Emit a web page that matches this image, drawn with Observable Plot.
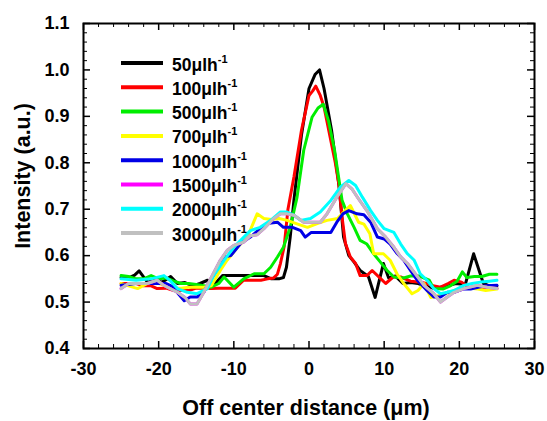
<!DOCTYPE html>
<html><head><meta charset="utf-8">
<script src="https://cdn.jsdelivr.net/npm/d3@7"></script>
<script src="https://cdn.jsdelivr.net/npm/@observablehq/plot@0.6"></script>
<style>body{margin:0;background:#fff} svg{display:block}</style>
</head><body><div id="chart"></div>
<script>
const seriesNames = ["50", "100", "500", "700", "1000", "1500", "2000", "3000"];
const seriesColors = ["#000000", "#ff0000", "#00ee00", "#ffff00", "#0000e6", "#ff00ff", "#00ffff", "#c0c0c0"];
const xTicks = [-30, -20, -10, 0, 10, 20, 30];
const yTicks = [0.4, 0.5, 0.6, 0.7, 0.8, 0.9, 1.0, 1.1];

const s50 = [[-25,0.553],[-24,0.552],[-23.2,0.558],[-22.6,0.567],[-21.5,0.543],[-20.5,0.547],[-19.5,0.543],[-18.4,0.555],[-17.5,0.54],[-16.5,0.542],[-15.5,0.535],[-14.5,0.54],[-13.5,0.547],[-12.5,0.54],[-11.5,0.557],[-10,0.557],[-8.5,0.557],[-7,0.557],[-6,0.557],[-5,0.55],[-4,0.55],[-3.4,0.553],[-3,0.575],[-2.5,0.64],[-2,0.72],[-1,0.86],[0,0.96],[0.8,0.99],[1.4,1.0],[2,0.96],[3,0.87],[4,0.75],[4.6,0.64],[5.3,0.6],[6,0.586],[6.8,0.568],[7.9,0.555],[8.8,0.51],[9.9,0.583],[10.6,0.552],[11.5,0.556],[12.5,0.54],[13.5,0.542],[14.5,0.54],[15.5,0.535],[16.5,0.53],[17.5,0.532],[18.5,0.535],[19.5,0.54],[20.8,0.538],[21.9,0.604],[23.2,0.54],[24,0.535],[25,0.535]];
const s100 = [[-25,0.54],[-24,0.54],[-23,0.54],[-22,0.535],[-21,0.535],[-20.2,0.529],[-19,0.53],[-18,0.525],[-17,0.525],[-16,0.525],[-15,0.53],[-14,0.53],[-13,0.529],[-12,0.53],[-11,0.53],[-9.8,0.53],[-8.7,0.547],[-7.5,0.547],[-6.4,0.547],[-5.5,0.55],[-4.7,0.552],[-4.2,0.56],[-3.8,0.583],[-3.3,0.62],[-2.8,0.7],[-2,0.77],[-1,0.87],[0,0.945],[0.5,0.955],[0.9,0.965],[1.5,0.945],[2,0.92],[3,0.84],[3.5,0.8],[3.95,0.756],[4.4,0.683],[4.85,0.626],[5.5,0.597],[6.2,0.583],[6.8,0.557],[7.7,0.557],[8.4,0.568],[9.5,0.551],[10.2,0.54],[11.2,0.554],[12.2,0.554],[13.5,0.545],[14.5,0.543],[15.7,0.54],[16.5,0.535],[17.5,0.532],[18.5,0.54],[19.3,0.547],[20.3,0.543],[21.2,0.532],[22,0.529],[23,0.53],[24,0.53],[25,0.53]];
const s500 = [[-25,0.557],[-24,0.555],[-23,0.55],[-22,0.55],[-21,0.557],[-20,0.55],[-19,0.552],[-18,0.545],[-17,0.54],[-16,0.54],[-15,0.538],[-14,0.535],[-13,0.532],[-12,0.54],[-11.3,0.554],[-10,0.532],[-8.7,0.55],[-7.3,0.561],[-6,0.561],[-5.1,0.575],[-4.2,0.597],[-3.4,0.618],[-2.5,0.661],[-1.6,0.725],[-0.7,0.827],[0.4,0.898],[1.2,0.918],[1.9,0.926],[2.6,0.89],[3.4,0.827],[4.4,0.719],[5.1,0.69],[6,0.661],[6.8,0.633],[7.7,0.625],[8.6,0.604],[9.5,0.586],[10.4,0.568],[11.3,0.554],[12.6,0.552],[13.5,0.556],[14.7,0.556],[16,0.547],[16.6,0.529],[17.8,0.528],[18.8,0.535],[19.7,0.545],[20.4,0.565],[21,0.553],[22,0.555],[23,0.555],[24,0.56],[25,0.56]];
const s700 = [[-25,0.54],[-24,0.535],[-22.8,0.529],[-21.5,0.54],[-20,0.54],[-19,0.535],[-18,0.53],[-17,0.53],[-16,0.532],[-15,0.532],[-14,0.532],[-13,0.535],[-11.8,0.568],[-10.9,0.59],[-9.5,0.618],[-8.2,0.64],[-6.9,0.69],[-6,0.68],[-5,0.678],[-4,0.68],[-2.9,0.676],[-1.5,0.668],[-0.2,0.661],[1.1,0.669],[2.4,0.676],[3.8,0.68],[4.7,0.695],[5.5,0.708],[6.6,0.672],[7.3,0.668],[8.1,0.647],[8.6,0.604],[9.9,0.604],[10.8,0.59],[11.7,0.561],[12.6,0.54],[13.7,0.518],[14.5,0.525],[15.3,0.54],[16.2,0.51],[17.5,0.515],[18.5,0.52],[19.3,0.525],[20.5,0.53],[21.5,0.53],[22.5,0.528],[23.5,0.525],[25,0.528]];
const s1000 = [[-25,0.536],[-23,0.54],[-21,0.54],[-20,0.54],[-19,0.54],[-18,0.532],[-17.5,0.52],[-16.6,0.503],[-15.8,0.511],[-14.9,0.511],[-14,0.521],[-13.1,0.547],[-12,0.575],[-11.3,0.597],[-10.4,0.6],[-9.1,0.626],[-7.8,0.64],[-6.5,0.658],[-5.6,0.669],[-4.2,0.672],[-3.4,0.661],[-2.2,0.661],[-1.1,0.654],[-0.5,0.64],[0.3,0.65],[1.5,0.65],[2.9,0.65],[3.7,0.672],[4.5,0.69],[5.3,0.697],[6.4,0.69],[7.3,0.688],[8.2,0.672],[9.1,0.64],[10,0.636],[10.8,0.625],[11.7,0.605],[12.6,0.59],[13.5,0.568],[14.4,0.547],[15.7,0.525],[16.6,0.511],[17.5,0.511],[18.4,0.521],[19.3,0.521],[20.5,0.528],[21.5,0.528],[22.5,0.532],[23.5,0.535],[25,0.536]];
const s2000 = [[-25,0.55],[-23,0.547],[-21,0.55],[-19.3,0.557],[-18.4,0.545],[-17.5,0.529],[-16.2,0.521],[-14.9,0.518],[-13.5,0.529],[-12.7,0.557],[-11.3,0.59],[-10,0.618],[-8.9,0.636],[-7.8,0.654],[-6.5,0.661],[-5.1,0.676],[-3.8,0.694],[-2.9,0.694],[-2,0.687],[-1.1,0.676],[0.2,0.68],[1.5,0.694],[2.9,0.719],[4.2,0.748],[5.3,0.762],[6.2,0.751],[7.1,0.726],[8.2,0.697],[9.1,0.676],[10,0.658],[11.3,0.65],[12.2,0.625],[13.1,0.604],[14,0.59],[14.8,0.561],[15.7,0.547],[16.6,0.529],[17.5,0.518],[18.4,0.521],[19.3,0.525],[20.6,0.536],[21.7,0.54],[22.8,0.543],[24,0.545],[25,0.547]];
const s3000 = [[-25,0.529],[-24,0.54],[-22.5,0.54],[-21.5,0.54],[-20.2,0.547],[-19.3,0.536],[-17.5,0.521],[-16.5,0.51],[-15.8,0.496],[-14.9,0.496],[-14,0.521],[-13.1,0.55],[-11.8,0.59],[-10.9,0.611],[-10,0.622],[-8.7,0.629],[-7.8,0.643],[-6.9,0.645],[-6,0.658],[-4.7,0.68],[-3.8,0.69],[-2.9,0.69],[-2,0.687],[-0.7,0.672],[0.4,0.672],[1.5,0.672],[2.4,0.69],[3.7,0.726],[4.9,0.755],[5.7,0.744],[6.6,0.722],[7.7,0.697],[9.1,0.658],[10.2,0.64],[11.3,0.618],[12.2,0.597],[13.1,0.583],[14,0.564],[15.3,0.536],[16.6,0.518],[17.5,0.5],[18.4,0.511],[19.3,0.521],[20.6,0.529],[22.4,0.536],[23.7,0.532],[25,0.529]];
// the 1500 curve is not visible in the picture: it lies beneath the 2000/3000 curves
const s1500 = s3000;

const allSeries = [s50, s100, s500, s700, s1000, s1500, s2000, s3000];
const rows = [];
allSeries.forEach((s, i) => s.forEach(([x, y]) => rows.push({name: seriesNames[i], x, y})));

const W = 547, H = 421, mL = 83, mR = 13, mT = 23, mB = 73;
const innerW = W - mL - mR, innerH = H - mT - mB;
const xMinor = d3.range(-30, 30.001, 2).filter(v => Math.abs(v % 10) > 0.01);
const yMinor = d3.range(0, 36).map(i => +(0.4 + i * 0.02).toFixed(2)).filter(v => Math.abs(Math.round(v * 10) - v * 10) > 0.01);
const MAJ = 7, MIN = 4;
const font = "'Liberation Sans', Arial, sans-serif";

const svg = Plot.plot({
  width: W, height: H, marginLeft: mL, marginRight: mR, marginTop: mT, marginBottom: mB,
  style: {fontFamily: font, background: "white", color: "black"},
  x: {domain: [-30, 30]},
  y: {domain: [0.4, 1.1]},
  color: {domain: seriesNames, range: seriesColors},
  marks: [
    Plot.line(rows, {x: "x", y: "y", z: "name", stroke: "name", strokeWidth: 3, strokeLinejoin: "round"}),
    // inward ticks, bottom & top
    Plot.ruleX(xTicks, {insetTop: innerH - MAJ, stroke: "black", strokeWidth: 1.5}),
    Plot.ruleX(xTicks, {insetBottom: innerH - MAJ, stroke: "black", strokeWidth: 1.5}),
    Plot.ruleX(xMinor, {insetTop: innerH - MIN, stroke: "black"}),
    Plot.ruleX(xMinor, {insetBottom: innerH - MIN, stroke: "black"}),
    // inward ticks, left & right
    Plot.ruleY(yTicks, {insetRight: innerW - MAJ, stroke: "black", strokeWidth: 1.5}),
    Plot.ruleY(yTicks, {insetLeft: innerW - MAJ, stroke: "black", strokeWidth: 1.5}),
    Plot.ruleY(yMinor, {insetRight: innerW - MIN, stroke: "black"}),
    Plot.ruleY(yMinor, {insetLeft: innerW - MIN, stroke: "black"}),
    Plot.frame({stroke: "black", strokeWidth: 2}),
    Plot.axisX(xTicks, {tickSize: 0, tickPadding: 14, fontSize: 18, fontWeight: "bold", label: null, tickFormat: d => String(d)}),
    Plot.axisY(yTicks, {tickSize: 0, tickPadding: 14, fontSize: 18, fontWeight: "bold", label: null, tickFormat: d3.format(".1f")}),
    Plot.text(["Off center distance (\u03bcm)"], {frameAnchor: "bottom", dy: 60, dx: -3, fontSize: 21.5, fontWeight: "bold", lineAnchor: "middle", textAnchor: "middle"}),
    Plot.text(["Intensity (a.u.)"], {frameAnchor: "left", dx: -60, dy: -10, rotate: -90, fontSize: 21.5, fontWeight: "bold", lineAnchor: "middle", textAnchor: "middle"})
  ]
});

// legend
const lg = d3.select(svg).append("g").attr("font-family", font).attr("font-weight", "bold").attr("text-anchor", "start");
seriesNames.forEach((n, i) => {
  const y = 63 + i * 24.3;
  lg.append("line").attr("x1", 121).attr("x2", 163).attr("y1", y).attr("y2", y)
    .attr("stroke", seriesColors[i]).attr("stroke-width", 4);
  const t = lg.append("text").attr("x", 172).attr("y", y + 7.5).attr("font-size", 17.5).attr("fill", "black");
  t.append("tspan").text(n + "\u03bclh");
  t.append("tspan").attr("font-size", 11).attr("dy", -8).text("-1");
});

document.getElementById("chart").appendChild(svg);
</script>
</body></html>
